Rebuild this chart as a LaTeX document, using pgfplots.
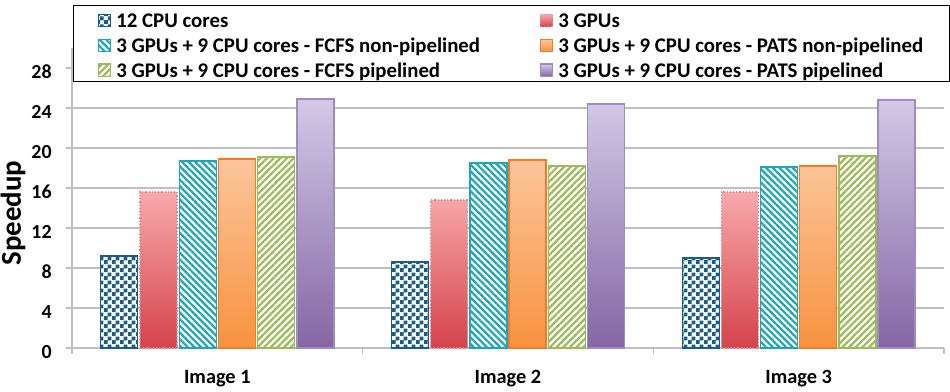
\documentclass[border=0pt]{standalone}
\usepackage{fontspec}
\setmainfont{Carlito}
\usepackage{pgfplots}
\pgfplotsset{compat=1.18}
\usetikzlibrary{patterns,patterns.meta}

\definecolor{axisgray}{HTML}{BFBFBF}
\definecolor{cpublue}{HTML}{165C8C}
\definecolor{gpured}{HTML}{D4434B}
\definecolor{gpupink}{HTML}{F8A9AB}
\definecolor{gpuedge}{HTML}{E3868A}
\definecolor{fcfsteal}{HTML}{1DA5BA}
\definecolor{patsorange}{HTML}{F8923F}
\definecolor{patslight}{HTML}{FBC69A}
\definecolor{patsedge}{HTML}{F57A22}
\definecolor{fcfsgreen}{HTML}{9BBB59}
\definecolor{pipepurple}{HTML}{8466A4}
\definecolor{pipelight}{HTML}{D3C9E6}
\definecolor{pipeedge}{HTML}{A08CC2}

% small checkerboard, 2bp squares
\pgfdeclarepatternformonly{smallchecker}{\pgfqpoint{0bp}{0bp}}{\pgfqpoint{4bp}{4bp}}{\pgfqpoint{4bp}{4bp}}{%
  \pgfpathrectangle{\pgfqpoint{0bp}{0bp}}{\pgfqpoint{2.1bp}{2.1bp}}%
  \pgfpathrectangle{\pgfqpoint{2bp}{2bp}}{\pgfqpoint{2.1bp}{2.1bp}}%
  \pgfusepath{fill}}

\begin{document}
\begin{tikzpicture}
\useasboundingbox (-36bp,-22bp) rectangle (439bp,174bp);
\begin{axis}[
    scale only axis,
    width=436bp, height=150bp,
    xmin=-0.5, xmax=2.5, ymin=0, ymax=30,
    ybar=1.1bp, bar width=18.5bp,
    axis x line*=bottom, axis y line*=left,
    axis line style={draw=axisgray, line width=0.75bp},
    xtick={-0.5,0.5,1.5,2.5}, xticklabels={},
    extra x ticks={0,1,2},
    extra x tick labels={Image 1,Image 2,Image 3},
    extra x tick style={major tick length=0pt,
        xticklabel style={font=\bfseries\fontsize{10.2}{12}\selectfont, anchor=base, yshift=-17.5bp}},
    ytick={0,4,...,28},
    tick align=outside,
    major tick length=3bp,
    every tick/.style={draw=axisgray, line width=0.75bp},
    ymajorgrids,
    grid style={draw=axisgray, line width=0.75bp},
    /pgf/number format/assume math mode=true,
    yticklabel style={font=\bfseries\fontsize{10}{12}\selectfont, anchor=east, inner sep=0pt, xshift=-7bp, yshift=-2bp},
    ylabel={Speedup},
    every axis y label/.style={at={(axis description cs:-0.0677,0.45)}, rotate=90, anchor=center,
        font=\bfseries\fontsize{14.5}{17}\selectfont},
    legend columns=2,
    legend cell align=left,
    legend style={at={(0.00115,1.1433)}, anchor=north west, draw=black, line width=0.6bp, fill=white,
        font=\bfseries\fontsize{10.45}{12}\selectfont,
        inner xsep=12bp, inner ysep=0.3bp, row sep=0bp, column sep=1.25bp,
        nodes={inner xsep=1.25bp, inner ysep=0pt, text height=10.6bp, text depth=1.8bp},
        /tikz/every even column/.append style={column sep=28.5bp}},
    legend image code/.code={\draw[#1] (0bp,-4.1bp) rectangle (6.2bp,2.1bp);},
]

\addplot[draw=cpublue, line width=0.6bp, fill=white,
    postaction={pattern=smallchecker, pattern color=cpublue}]
    coordinates {(0,9.2) (1,8.6) (2,9.0)};
\addlegendentry{12 CPU cores}

\addplot[draw=gpuedge, densely dotted, line width=0.6bp, top color=gpupink, bottom color=gpured]
    coordinates {(0,15.6) (1,14.8) (2,15.6)};
\addlegendentry{3 GPUs}

\addplot[draw=fcfsteal, line width=0.7bp, fill=white,
    postaction={pattern={Lines[angle=-45,distance=2.35bp,line width=1.1bp]}, pattern color=fcfsteal}]
    coordinates {(0,18.7) (1,18.5) (2,18.1)};
\addlegendentry{3 GPUs + 9 CPU cores - FCFS non-pipelined}

\addplot[draw=patsedge, line width=0.7bp, top color=patslight, bottom color=patsorange]
    coordinates {(0,18.9) (1,18.8) (2,18.2)};
\addlegendentry{3 GPUs + 9 CPU cores - PATS non-pipelined}

\addplot[draw=fcfsgreen, line width=0.7bp, fill=white,
    postaction={pattern={Lines[angle=45,distance=2.35bp,line width=1.1bp]}, pattern color=fcfsgreen}]
    coordinates {(0,19.1) (1,18.2) (2,19.2)};
\addlegendentry{3 GPUs + 9 CPU cores - FCFS pipelined}

\addplot[draw=pipeedge, line width=0.7bp, top color=pipelight, bottom color=pipepurple]
    coordinates {(0,24.9) (1,24.4) (2,24.8)};
\addlegendentry{3 GPUs + 9 CPU cores - PATS pipelined}

\end{axis}
\end{tikzpicture}
\end{document}
